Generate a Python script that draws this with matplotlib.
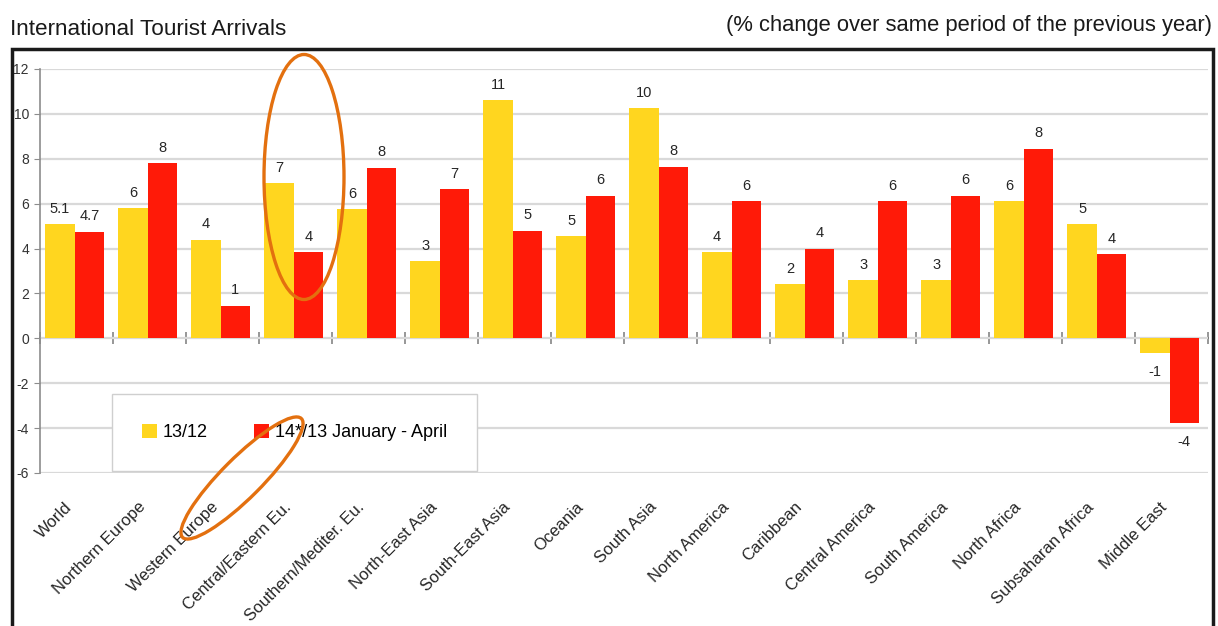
import matplotlib
matplotlib.use("Agg")
import matplotlib.pyplot as plt
import matplotlib.transforms as mtransforms
import numpy as np
from matplotlib.patches import Ellipse, Rectangle

regions = [
    "World", "Northern Europe", "Western Europe", "Central/Eastern Eu.",
    "Southern/Mediter. Eu.", "North-East Asia", "South-East Asia", "Oceania",
    "South Asia", "North America", "Caribbean", "Central America",
    "South America", "North Africa", "Subsaharan Africa", "Middle East",
]
full_year = [5.1, 5.8, 4.4, 6.9, 5.75, 3.45, 10.6, 4.55, 10.25, 3.85, 2.4, 2.6, 2.6, 6.1, 5.1, -0.65]
jan_apr = [4.75, 7.8, 1.45, 3.85, 7.6, 6.65, 4.8, 6.35, 7.65, 6.1, 4.0, 6.1, 6.35, 8.45, 3.75, -3.75]
full_year_labels = ["5.1", "6", "4", "7", "6", "3", "11", "5", "10", "4", "2", "3", "3", "6", "5", "-1"]
jan_apr_labels = ["4.7", "8", "1", "4", "8", "7", "5", "6", "8", "6", "4", "6", "6", "8", "4", "-4"]
series_names = ["13/12", "14*/13 January - April"]

plt.rcParams["font.family"] = ["Liberation Sans", "DejaVu Sans"]
plt.rcParams["axes.unicode_minus"] = False

YELLOW = "#FFD61F"
RED = "#FF1A08"
GRID = "#D9D9D9"
AXIS = "#8C8C8C"
TEXT = "#262626"

W, H = 1218, 626
fig = plt.figure(figsize=(W / 100, H / 100), dpi=100)
ax = fig.add_axes([40 / W, 1 - 473 / H, (1208 - 40) / W, (473 - 69) / H])

x = np.arange(len(regions))
ymin, ymax = -6, 12
b1 = ax.bar(x - 0.225, full_year, width=0.4, color=YELLOW, zorder=2, label=series_names[0])
b2 = ax.bar(x + 0.175, jan_apr, width=0.4, color=RED, zorder=2, label=series_names[1])

for bars, labels in ((b1, full_year_labels), (b2, jan_apr_labels)):
    for rect, lab in zip(bars, labels):
        v = rect.get_height() if rect.get_y() >= 0 else rect.get_y()
        cx = rect.get_x() + rect.get_width() / 2
        if v >= 0:
            ax.annotate(lab, (cx, v), xytext=(0, 6), textcoords="offset points",
                        ha="center", va="bottom", fontsize=10.5, color=TEXT)
        else:
            ax.annotate(lab, (cx, v), xytext=(0, -9), textcoords="offset points",
                        ha="center", va="top", fontsize=10.5, color=TEXT)

ax.set_xlim(-0.5, len(regions) - 0.5)
ax.set_ylim(ymin, ymax)
ax.set_yticks(np.arange(ymin, ymax + 1, 2))
ax.yaxis.grid(True, color=GRID, linewidth=1.6)
ax.set_axisbelow(True)
for side in ("top", "right", "bottom"):
    ax.spines[side].set_visible(False)
ax.spines["left"].set_color(AXIS)
ax.spines["left"].set_linewidth(1.2)
ax.tick_params(axis="y", direction="out", length=4, color=AXIS, labelsize=10,
               labelcolor="#333333", pad=4)

ax.set_xticks(x)
ax.set_xticklabels(regions, rotation=45, ha="right", va="top", rotation_mode="anchor",
                   fontsize=12, color=TEXT)
ax.tick_params(axis="x", length=0, pad=19)
shift = mtransforms.ScaledTranslation(-12 / 100, 0, fig.dpi_scale_trans)
for lbl in ax.get_xticklabels():
    lbl.set_transform(lbl.get_transform() + shift)

# zero line with category separators
zero = ax.secondary_xaxis((0 - ymin) / (ymax - ymin))
zero.set_xticks(np.arange(-0.5, len(regions), 1.0))
zero.tick_params(axis="x", direction="inout", length=9, color="#7A7A7A", width=1.1,
                 labelbottom=False)
zero.spines["bottom"].set_color("#7A7A7A")
zero.spines["bottom"].set_linewidth(1.4)

ax.legend(loc="lower left", bbox_to_anchor=(72 / 1168, 2 / 404), ncol=2, fontsize=13,
          frameon=True, fancybox=False, edgecolor="#CFCFCF", framealpha=1,
          handlelength=0.83, handleheight=0.83, handletextpad=0.3, columnspacing=2.6,
          borderpad=1.65, borderaxespad=0)

fig.text(10 / W, 1 - 35 / H, "International Tourist Arrivals", fontsize=16.2,
         va="baseline", ha="left", color="#1a1a1a")
fig.text(1212 / W, 1 - 31 / H, "(% change over same period of the previous year)",
         fontsize=15.8, va="baseline", ha="right", color="#1a1a1a")

fig.add_artist(Rectangle((11.5 / W, -0.1), (1213 - 11.5) / W, 1.1 - 49 / H,
                         transform=fig.transFigure, fill=False, lw=2.5, ec="#1a1a1a"))

orange = "#E3700F"
fig.add_artist(Ellipse((3.04, (H - 177) / 100), 0.80, 2.45, angle=0,
                       transform=fig.dpi_scale_trans, fill=False, ec=orange, lw=2.4))
fig.add_artist(Ellipse((2.42, (H - 478) / 100), 1.68, 0.40, angle=45,
                       transform=fig.dpi_scale_trans, fill=False, ec=orange, lw=2.4))

fig.savefig("out.png", dpi=100)
